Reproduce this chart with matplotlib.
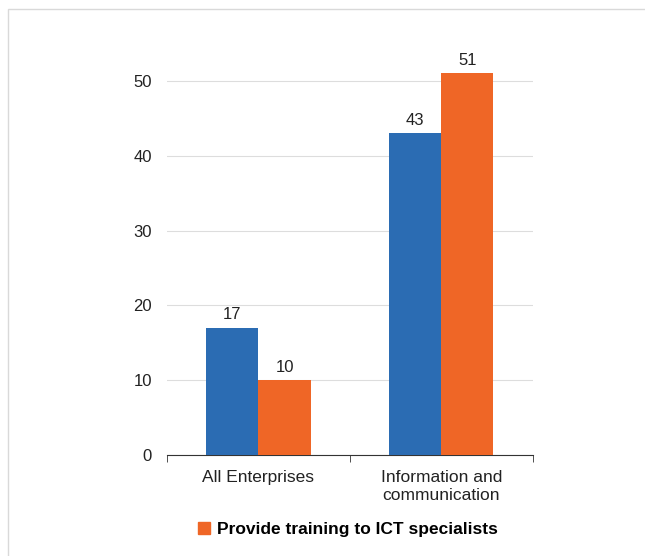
import matplotlib
matplotlib.use("Agg")
import matplotlib.pyplot as plt
import numpy as np
from matplotlib.patches import Rectangle, Patch

plt.rcParams["font.family"] = ["Liberation Sans", "DejaVu Sans"]

categories = ["All Enterprises", "Information and\ncommunication"]
series_a = [17, 43]
series_b = [10, 51]
legend_label = "Provide training to ICT specialists"

blue = "#2b6cb3"
orange = "#ef6626"

fig = plt.figure(figsize=(6.45, 5.56), dpi=100)
ax = fig.add_axes([0.259, 0.1817, 0.567, 0.74])

x = np.arange(len(categories))
w = 0.285
bars_a = ax.bar(x - w / 2, series_a, width=w, color=blue, zorder=3)
bars_b = ax.bar(x + w / 2, series_b, width=w, color=orange, zorder=3)
for bars in (bars_a, bars_b):
    ax.bar_label(bars, padding=4, fontsize=12, color="#222222")

ax.set_xlim(-0.5, 1.5)
ax.set_ylim(0, 55)
ax.set_yticks(range(0, 51, 10))
ax.tick_params(axis="y", length=0, labelsize=12, pad=11, colors="#222222")
ax.set_xticks(x)
ax.set_xticklabels(categories, linespacing=1.2)
ax.tick_params(axis="x", length=0, labelsize=12.5, colors="#222222", pad=11)
ax.set_xticks([-0.5, 0.5, 1.5], minor=True)
ax.tick_params(axis="x", which="minor", length=5, color="#333333")
ax.grid(axis="y", color="#dddddd", linewidth=0.8, zorder=0)
for s in ("top", "right", "left"):
    ax.spines[s].set_visible(False)
ax.spines["bottom"].set_color("#333333")

fig.legend(handles=[Patch(color=orange, label=legend_label)],
           loc="center", bbox_to_anchor=(0.54, 0.048), frameon=False,
           prop={"weight": "bold", "size": 12.5}, handlelength=0.7,
           handleheight=0.7, handletextpad=0.4)

fig.patches.append(Rectangle((8 / 645, -0.1), 1.0, 1.1 - 9 / 556,
                             transform=fig.transFigure, fill=False,
                             edgecolor="#d9d9d9", linewidth=1))

fig.savefig("out.png", dpi=100)
